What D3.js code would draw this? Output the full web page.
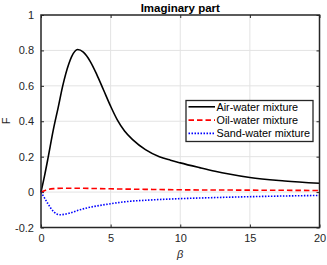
<!DOCTYPE html>
<html>
<head>
<meta charset="utf-8">
<style>
  body { margin: 0; background: #fff; }
  svg { position: absolute; top: 0; left: 0; font-family: "Liberation Sans", Arial, sans-serif; }
  .grid line { stroke: #e3e3e3; stroke-width: 1px; }
  .tick text { fill: #262626; font-size: 11px; }
</style>
<script src="https://cdnjs.cloudflare.com/ajax/libs/d3/7.8.5/d3.min.js"></script>
</head>
<body>
<svg width="327" height="265"></svg>
<script>
// values
var airBeta = [0, 0.25, 0.5, 0.88, 1.24, 1.56, 2.0, 2.2, 2.63, 3.04, 3.52, 4.0, 4.5, 5.0, 5.5, 6.0, 6.6, 7.5, 8.5, 9.3, 10, 11.4, 12.5, 13.5, 15, 17.5, 20];
var airF    = [0, 0.09, 0.19, 0.35, 0.48, 0.60, 0.725, 0.765, 0.805, 0.79, 0.74, 0.665, 0.575, 0.485, 0.405, 0.345, 0.295, 0.24, 0.2, 0.18, 0.165, 0.138, 0.118, 0.102, 0.082, 0.063, 0.05];

var oilBeta = [0, 0.25, 0.5, 1, 1.5, 2.5, 4, 6, 8, 10, 15, 20];
var oilF    = [0, 0.008, 0.015, 0.02, 0.022, 0.022, 0.02, 0.017, 0.015, 0.013, 0.011, 0.009];

var sandBeta = [0, 0.15, 0.5, 0.9, 1.34, 2, 2.66, 3.5, 4.57, 6.25, 8, 10, 12.5, 15, 17.5, 20];
var sandF    = [0, -0.02, -0.066, -0.11, -0.128, -0.12, -0.103, -0.086, -0.071, -0.053, -0.044, -0.037, -0.031, -0.026, -0.022, -0.019];

var xTicks = [0, 5, 10, 15, 20];
var yTicks = [-0.2, 0, 0.2, 0.4, 0.6, 0.8, 1];
var seriesNames = ["Air-water mixture", "Oil-water mixture", "Sand-water mixture"];

var svg = d3.select("svg"),
    pL = 41, pR = 319.5, pT = 15, pB = 227.5;

var x = d3.scaleLinear().domain([0, 20]).range([pL, pR]);
var y = d3.scaleLinear().domain([-0.2, 1]).range([pB, pT]);

// grid
var grid = svg.append("g").attr("class", "grid");
grid.selectAll(".gx").data(xTicks.slice(1, -1)).enter().append("line")
  .attr("x1", d => x(d)).attr("x2", d => x(d)).attr("y1", pT).attr("y2", pB);
grid.selectAll(".gy").data(yTicks.slice(1, -1)).enter().append("line")
  .attr("y1", d => y(d)).attr("y2", d => y(d)).attr("x1", pL).attr("x2", pR);

// axes
var fmt = d => String(+d.toFixed(1));
svg.append("g").attr("transform", "translate(0," + pB + ")")
  .call(d3.axisBottom(x).tickValues(xTicks).tickSizeInner(-3).tickSizeOuter(0).tickPadding(7).tickFormat(fmt));
svg.append("g").attr("transform", "translate(0," + pT + ")")
  .call(d3.axisTop(x).tickValues(xTicks).tickSizeInner(-3).tickSizeOuter(0).tickFormat(""));
svg.append("g").attr("transform", "translate(" + pL + ",0)")
  .call(d3.axisLeft(y).tickValues(yTicks).tickSizeInner(-3).tickSizeOuter(0).tickPadding(7).tickFormat(fmt));
svg.append("g").attr("transform", "translate(" + pR + ",0)")
  .call(d3.axisRight(y).tickValues(yTicks).tickSizeInner(-3).tickSizeOuter(0).tickFormat(""));
svg.selectAll(".domain").remove();
svg.selectAll(".tick line").attr("stroke", "#262626").attr("stroke-width", 1);

var line = d3.line().curve(d3.curveMonotoneX).x(d => x(d[0])).y(d => y(d[1]));

var series = [
  {beta: airBeta, f: airF, color: "#000", dash: null, w: 1.6},
  {beta: oilBeta, f: oilF, color: "#ff0000", dash: "5.5,3", w: 1.6},
  {beta: sandBeta, f: sandF, color: "#0000ff", dash: "1.5,1.5", w: 1.6}
];

svg.selectAll(".series").data(series).enter().append("path")
  .attr("fill", "none")
  .attr("stroke", d => d.color)
  .attr("stroke-width", d => d.w)
  .attr("stroke-dasharray", d => d.dash)
  .attr("d", d => line(d.beta.map((b, i) => [b, d.f[i]])));

// box
svg.append("rect").attr("x", pL).attr("y", pT).attr("width", pR - pL).attr("height", pB - pT)
  .attr("fill", "none").attr("stroke", "#262626").attr("stroke-width", 1.5);

// legend
var lg = svg.append("g");
lg.append("rect").attr("x", 186).attr("y", 100.5).attr("width", 127).attr("height", 41)
  .attr("fill", "#fff").attr("stroke", "#262626").attr("stroke-width", 1.3);
seriesNames.forEach(function(name, i) {
  var yy = 106.8 + i * 13.3;
  lg.append("line").attr("x1", 188.5).attr("x2", 215).attr("y1", yy).attr("y2", yy)
    .attr("stroke", series[i].color).attr("stroke-width", series[i].w)
    .attr("stroke-dasharray", series[i].dash);
  lg.append("text").attr("x", 216.5).attr("y", yy + 3.9).attr("font-size", 10.8).attr("fill", "#000").text(name);
});

// titles
svg.append("text").attr("x", (pL + pR) / 2).attr("y", 12).attr("text-anchor", "middle")
  .attr("font-size", 11.5).attr("font-weight", "bold").attr("fill", "#000").text("Imaginary part");
svg.append("text").attr("transform", "translate(10," + 121 + ") rotate(-90)")
  .attr("text-anchor", "middle").attr("font-size", 11).attr("fill", "#262626").text("F");
svg.append("text").attr("x", (pL + pR) / 2).attr("y", 258).attr("text-anchor", "middle")
  .attr("font-size", 11).attr("font-style", "italic").attr("fill", "#262626").text("β");
</script>
</body>
</html>
